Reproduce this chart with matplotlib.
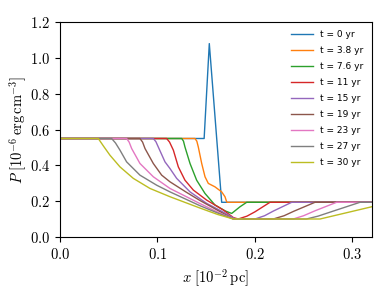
import matplotlib
matplotlib.use('Agg')
import matplotlib.pyplot as plt
from matplotlib.ticker import FuncFormatter

plt.rcParams['mathtext.fontset'] = 'cm'

# pressure profiles, x in 1e-2 pc, P in 1e-6 erg cm^-3
labels = ['t = 0 yr', 't = 3.8 yr', 't = 7.6 yr', 't = 11 yr', 't = 15 yr',
          't = 19 yr', 't = 23 yr', 't = 27 yr', 't = 30 yr']

x0 = [0.0, 0.148, 0.1533, 0.166, 0.32]
p0 = [0.55, 0.55, 1.078, 0.195, 0.195]

x1 = [0.0, 0.1386, 0.1405, 0.142, 0.1455, 0.1489, 0.1523, 0.1591, 0.166, 0.1694, 0.1711, 0.172, 0.32]
p1 = [0.55, 0.55, 0.535, 0.503, 0.411, 0.337, 0.30, 0.281, 0.253, 0.226, 0.198, 0.195, 0.195]

x2 = [0.0, 0.125, 0.1268, 0.1283, 0.1335, 0.1403, 0.1489, 0.1591, 0.1700, 0.1763, 0.1848, 0.1917, 0.32]
p2 = [0.55, 0.55, 0.535, 0.503, 0.411, 0.318, 0.244, 0.180, 0.146, 0.133, 0.170, 0.195, 0.195]

x3 = [0.0, 0.1095, 0.1125, 0.1164, 0.1215, 0.1283, 0.1369, 0.1506, 0.1677, 0.178, 0.183, 0.192, 0.2002, 0.2156, 0.32]
p3 = [0.55, 0.55, 0.530, 0.485, 0.392, 0.318, 0.263, 0.207, 0.152, 0.110, 0.102, 0.118, 0.142, 0.195, 0.195]

x4 = [0.0, 0.0958, 0.0985, 0.1009, 0.1078, 0.1129, 0.1198, 0.1335, 0.1506, 0.1677, 0.180, 0.2002, 0.210, 0.219, 0.2379, 0.32]
p4 = [0.55, 0.55, 0.532, 0.503, 0.420, 0.383, 0.328, 0.253, 0.189, 0.140, 0.102, 0.102, 0.120, 0.146, 0.195, 0.195]

x5 = [0.0, 0.0821, 0.0848, 0.0873, 0.0958, 0.1044, 0.1129, 0.130, 0.1437, 0.162, 0.178, 0.219, 0.230, 0.240, 0.2618, 0.32]
p5 = [0.55, 0.55, 0.530, 0.494, 0.411, 0.346, 0.309, 0.250, 0.205, 0.150, 0.102, 0.102, 0.120, 0.145, 0.195, 0.195]

x6 = [0.0, 0.0684, 0.0710, 0.0736, 0.0821, 0.0958, 0.1129, 0.1437, 0.162, 0.178, 0.2395, 0.250, 0.262, 0.284, 0.32]
p6 = [0.55, 0.55, 0.530, 0.494, 0.411, 0.337, 0.272, 0.188, 0.140, 0.102, 0.102, 0.120, 0.148, 0.195, 0.195]

x7 = [0.0, 0.053, 0.0570, 0.0616, 0.0684, 0.0821, 0.0993, 0.1129, 0.1437, 0.162, 0.178, 0.253, 0.265, 0.280, 0.308, 0.32]
p7 = [0.55, 0.55, 0.525, 0.485, 0.420, 0.346, 0.290, 0.253, 0.176, 0.135, 0.102, 0.102, 0.118, 0.145, 0.195, 0.195]

x8 = [0.0, 0.0393, 0.0450, 0.0513, 0.0616, 0.0753, 0.0924, 0.1129, 0.1437, 0.162, 0.178, 0.267, 0.32]
p8 = [0.55, 0.55, 0.505, 0.457, 0.392, 0.328, 0.272, 0.226, 0.163, 0.127, 0.102, 0.102, 0.170]

xs = [x0, x1, x2, x3, x4, x5, x6, x7, x8]
ps = [p0, p1, p2, p3, p4, p5, p6, p7, p8]

fig = plt.figure(figsize=(3.9, 2.93), dpi=100)
ax = fig.add_axes([0.1538, 0.19, 0.7992, 0.736])

for i in range(len(xs)):
    ax.plot(xs[i], ps[i], color='C%d' % i, lw=1.0, label=labels[i])

ax.set_xlim(0, 0.32)
ax.set_ylim(0, 1.2)
ax.set_xticks([0.0, 0.1, 0.2, 0.3])
ax.set_yticks([0.0, 0.2, 0.4, 0.6, 0.8, 1.0, 1.2])
fmt = FuncFormatter(lambda v, pos: r'$%.1f$' % v)
ax.xaxis.set_major_formatter(fmt)
ax.yaxis.set_major_formatter(fmt)
ax.tick_params(labelsize=10.5)
ax.set_xlabel(r'$x\ [10^{-2}\,\mathrm{pc}]$', fontsize=10.5)
ax.set_ylabel(r'$P\ [10^{-6}\,\mathrm{erg\,cm^{-3}}]$', fontsize=10.5, labelpad=1)

ax.legend(loc='upper right', frameon=False, fontsize=6.5,
          handlelength=2.4, labelspacing=0.78)

fig.savefig('out.png', dpi=100)
